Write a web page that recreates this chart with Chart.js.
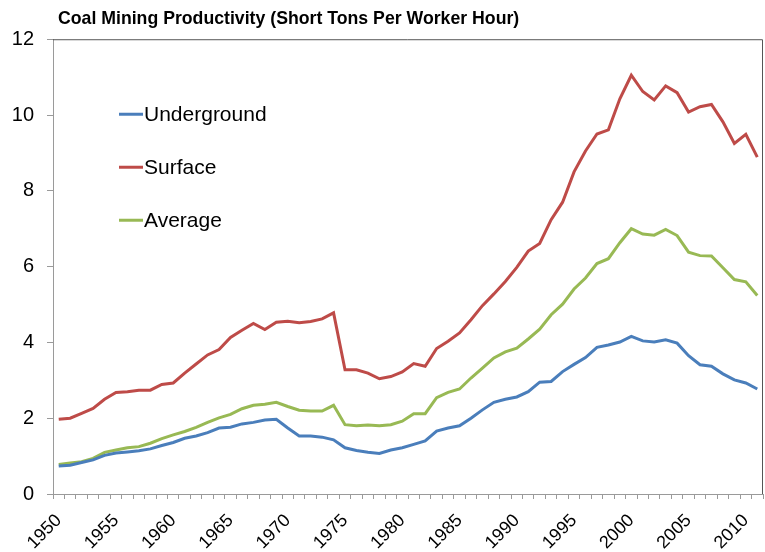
<!DOCTYPE html>
<html>
<head>
<meta charset="utf-8">
<title>Coal Mining Productivity</title>
<script src="https://cdn.jsdelivr.net/npm/chart.js@4"></script>
<style>
  html, body { margin: 0; padding: 0; background: #ffffff; }
  #wrap { width: 765px; height: 552px; }
</style>
</head>
<body>
<div id="wrap"><canvas id="chart" width="765" height="552"></canvas></div>
<script>
// Years on the category axis
const years = [];
for (let y = 1950; y <= 2011; y++) years.push(String(y));

// Short tons per worker hour
const underground = [
  0.74, 0.76, 0.83, 0.90, 1.02, 1.08, 1.11, 1.14, 1.19, 1.28,
  1.36, 1.47, 1.53, 1.62, 1.74, 1.76, 1.85, 1.89, 1.95, 1.97,
  1.74, 1.53, 1.53, 1.50, 1.43, 1.22, 1.15, 1.10, 1.07, 1.16,
  1.22, 1.31, 1.40, 1.66, 1.74, 1.80, 2.00, 2.22, 2.42, 2.50,
  2.56, 2.70, 2.95, 2.97, 3.23, 3.42, 3.60, 3.87, 3.93, 4.01,
  4.16, 4.04, 4.01, 4.07, 3.98, 3.65, 3.41, 3.37, 3.17, 3.01,
  2.93, 2.77
];
const surface = [
  1.97, 2.00, 2.13, 2.26, 2.50, 2.68, 2.70, 2.74, 2.74, 2.89,
  2.93, 3.19, 3.43, 3.67, 3.81, 4.13, 4.32, 4.50, 4.34, 4.53,
  4.56, 4.52, 4.55, 4.62, 4.78, 3.28, 3.28, 3.19, 3.04, 3.10,
  3.22, 3.44, 3.37, 3.84, 4.03, 4.25, 4.60, 4.97, 5.28, 5.61,
  5.98, 6.41, 6.61, 7.24, 7.70, 8.50, 9.05, 9.50, 9.61, 10.43,
  11.05, 10.62, 10.40, 10.77, 10.59, 10.08, 10.22, 10.28, 9.82, 9.25,
  9.49, 8.89
];
const average = [
  0.78, 0.82, 0.85, 0.94, 1.10, 1.16, 1.22, 1.25, 1.34, 1.46,
  1.56, 1.65, 1.76, 1.89, 2.01, 2.10, 2.25, 2.34, 2.37, 2.42,
  2.31, 2.21, 2.19, 2.19, 2.34, 1.83, 1.80, 1.82, 1.80, 1.83,
  1.92, 2.12, 2.12, 2.54, 2.68, 2.77, 3.06, 3.32, 3.59, 3.75,
  3.85, 4.09, 4.35, 4.73, 5.01, 5.41, 5.70, 6.08, 6.21, 6.63,
  7.00, 6.86, 6.83, 6.98, 6.82, 6.38, 6.29, 6.28, 5.97, 5.66,
  5.60, 5.24
];

const seriesNames = ['Underground', 'Surface', 'Average'];
const seriesColors = ['#4A7EBB', '#BE4B48', '#98B954'];
const titleText = 'Coal Mining Productivity (Short Tons Per Worker Hour)';

const FONT = "'Liberation Sans', Arial, Helvetica, sans-serif";

// Thin frame along the top and right of the plot area
const framePlugin = {
  id: 'frame',
  afterLayout(chart) {
    // nudge the title a little to the right of the plot's left edge
    if (chart.titleBlock) {
      chart.titleBlock.left += 5;
      chart.titleBlock.right += 5;
    }
  },
  afterDraw(chart) {
    const { ctx, chartArea: a } = chart;
    ctx.save();
    ctx.strokeStyle = '#555555';
    ctx.lineWidth = 1;
    ctx.beginPath();
    ctx.moveTo(a.left, a.top + 0.5);
    ctx.lineTo(a.right - 0.5, a.top + 0.5);
    ctx.lineTo(a.right - 0.5, a.bottom);
    ctx.stroke();
    ctx.restore();
  }
};

// Legend drawn inside the plot area as a vertical list
const insideLegend = {
  id: 'insideLegend',
  afterDatasetsDraw(chart) {
    const { ctx, chartArea: a } = chart;
    ctx.save();
    ctx.font = '21px ' + FONT;
    ctx.textBaseline = 'middle';
    ctx.textAlign = 'left';
    chart.data.datasets.forEach((ds, i) => {
      const y = a.top + 75 + i * 53;
      const x = a.left + 66;
      ctx.strokeStyle = ds.borderColor;
      ctx.lineWidth = 3;
      ctx.beginPath();
      ctx.moveTo(x, y);
      ctx.lineTo(x + 24, y);
      ctx.stroke();
      ctx.fillStyle = '#000000';
      ctx.fillText(ds.label, x + 25, y + 1);
    });
    ctx.restore();
  }
};

const seriesData = [underground, surface, average];

new Chart(document.getElementById('chart'), {
  type: 'line',
  data: {
    labels: years,
    datasets: seriesNames.map((name, i) => ({
      label: name,
      data: seriesData[i],
      borderColor: seriesColors[i],
      backgroundColor: seriesColors[i],
      borderWidth: 3,
      pointRadius: 0,
      tension: 0,
      fill: false
    }))
  },
  options: {
    responsive: false,
    animation: false,
    layout: { padding: { left: 0, right: 2, top: 0, bottom: 0 } },
    plugins: {
      legend: { display: false },
      tooltip: { enabled: false },
      title: {
        display: true,
        text: titleText,
        align: 'start',
        fullSize: false,
        color: '#000000',
        font: { family: FONT, size: 17.7, weight: 'bold' },
        padding: { top: 8, bottom: 10 }
      }
    },
    scales: {
      x: {
        type: 'category',
        offset: true,
        border: { color: '#9a9a9a', width: 1 },
        grid: {
          offset: true,
          drawOnChartArea: false,
          drawTicks: true,
          tickLength: 5,
          color: '#9a9a9a'
        },
        ticks: {
          autoSkip: false,
          minRotation: 45,
          maxRotation: 45,
          padding: 11,
          color: '#000000',
          font: { family: FONT, size: 18 },
          callback: function (value) {
            const lab = this.getLabelForValue(value);
            return Number(lab) % 5 === 0 ? lab : '';
          }
        },
        afterFit(scale) {
          scale.height = 58;
          scale.paddingLeft = 0;
          scale.paddingRight = 0;
        }
      },
      y: {
        min: 0,
        max: 12,
        border: { color: '#9a9a9a', width: 1 },
        grid: {
          drawOnChartArea: false,
          drawTicks: true,
          tickLength: 6,
          color: '#9a9a9a'
        },
        ticks: {
          stepSize: 2,
          padding: 13,
          color: '#000000',
          font: { family: FONT, size: 20 }
        },
        afterFit(scale) {
          scale.width = 53;
        }
      }
    }
  },
  plugins: [framePlugin, insideLegend]
});
</script>
</body>
</html>
